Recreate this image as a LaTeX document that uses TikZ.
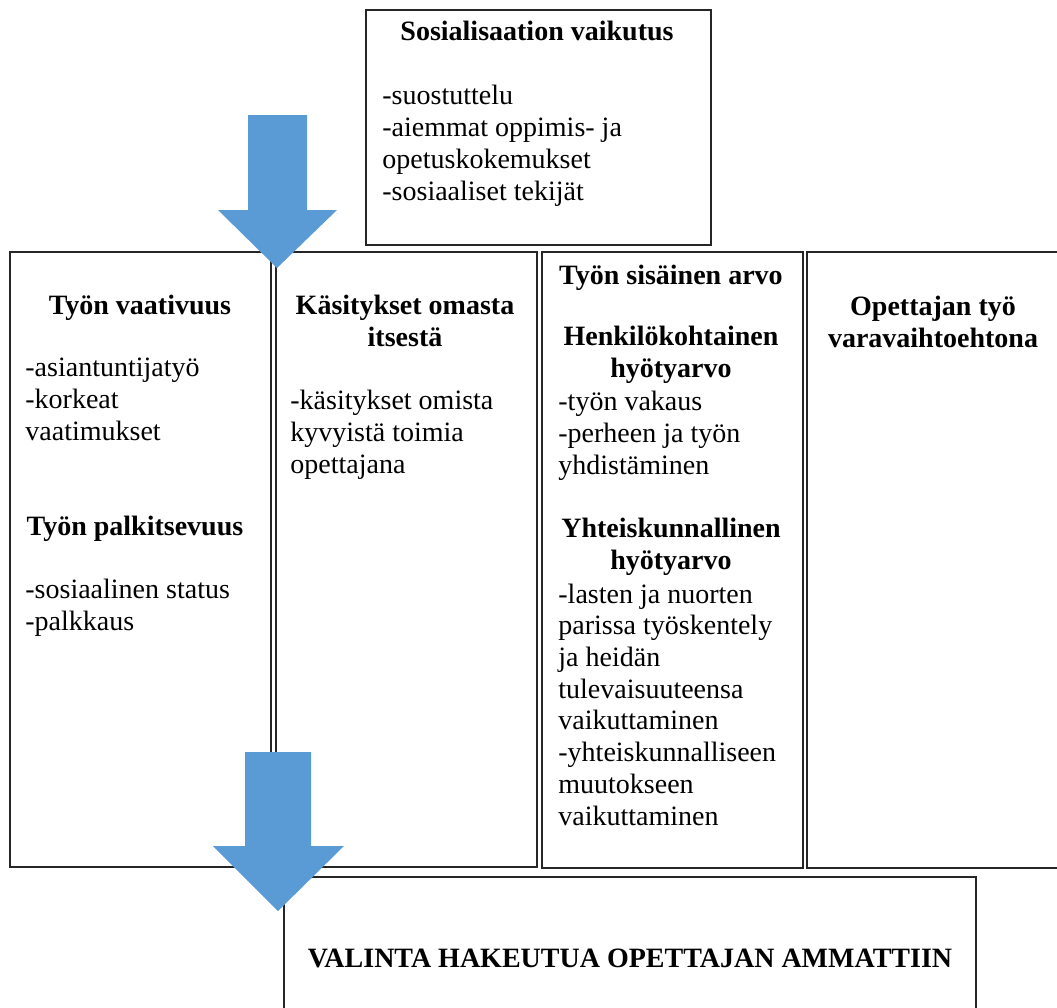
\documentclass[tikz,border=0pt]{standalone}
\usepackage{fontspec}
\setmainfont{Liberation Serif}
\usetikzlibrary{fit}
\definecolor{arrowblue}{HTML}{5B9BD5}
\newcommand{\boxfont}{\fontsize{14}{15.85}\selectfont}
\tikzset{
	box/.style={draw=black!85, line width=.8pt, inner sep=0pt},
	head/.style={font=\boxfont\bfseries, align=center, inner sep=0pt, anchor=base},
	items/.style={font=\boxfont, align=left, inner sep=0pt, anchor=base west},
	bigarrow/.style={fill=arrowblue, draw=none}
}

\begin{document}
\begin{tikzpicture}[x=.5pt, y=-.5pt]
		\useasboundingbox (0,0) rectangle (1057,1008);
		\clip (0,0) rectangle (1057,1008);
		% boxes
		\node [box, fit={(366,10) (711,245)}] (sos) {};
		\node [box, fit={(10,252) (271,867)}] (vaat) {};
		\node [box, fit={(276,252) (537,867)}] (kasit) {};
		\node [box, fit={(542,252) (803,868)}] (arvo) {};
		\node [box, fit={(807,252) (1080,868)}] (vara) {};
		\node [box, fit={(284,877) (976,1040)}] (valinta) {};
		
		% texts: the base anchor is the baseline of the last line
		\node [head] (sostitle) at (537,40) {Sosialisaation vaikutus};
		\node [items] (sositems) at (382,200) {-suostuttelu\\-aiemmat oppimis- ja\\opetuskokemukset\\-sosiaaliset tekijät};
		
		\node [head] (vaattitle) at (140,314) {Työn vaativuus};
		\node [items] (vaatitems) at (25,440) {-asiantuntijatyö\\-korkeat\\vaatimukset};
		\node [head] (palktitle) at (135,535) {Työn palkitsevuus};
		\node [items] (palkitems) at (25,630) {-sosiaalinen status\\-palkkaus};
		
		\node [head] (kasittitle) at (405,346) {Käsitykset omasta\\itsestä};
		\node [items] (kasititems) at (290,473) {-käsitykset omista\\kyvyistä toimia\\opettajana};
		
		\node [head] (arvotitle) at (671,284) {Työn sisäinen arvo};
		\node [head] (henktitle) at (671,377) {Henkilökohtainen\\hyötyarvo};
		\node [items] (henkitems) at (558,474) {-työn vakaus\\-perheen ja työn\\yhdistäminen};
		\node [head] (yhttitle) at (671,569) {Yhteiskunnallinen\\hyötyarvo};
		\node [items] (yhtitems) at (558,825) {-lasten ja nuorten\\parissa työskentely\\ja heidän\\tulevaisuuteensa\\vaikuttaminen\\-yhteiskunnalliseen\\muutokseen\\vaikuttaminen};
		
		\node [head] (varatitle) at (933,347) {Opettajan työ\\varavaihtoehtona};
		
		\node [head] (valintatitle) at (630,967) {VALINTA HAKEUTUA OPETTAJAN AMMATTIIN};
		
		% block arrows
		\fill [bigarrow] (248,115) -- (307,115) -- (307,210) -- (337,210) -- (277,268) -- (218,210) -- (248,210) -- cycle;
		\fill [bigarrow] (245,752) -- (311,752) -- (311,846) -- (344,846) -- (278,911) -- (213,846) -- (245,846) -- cycle;
	\end{tikzpicture}
\end{document}
